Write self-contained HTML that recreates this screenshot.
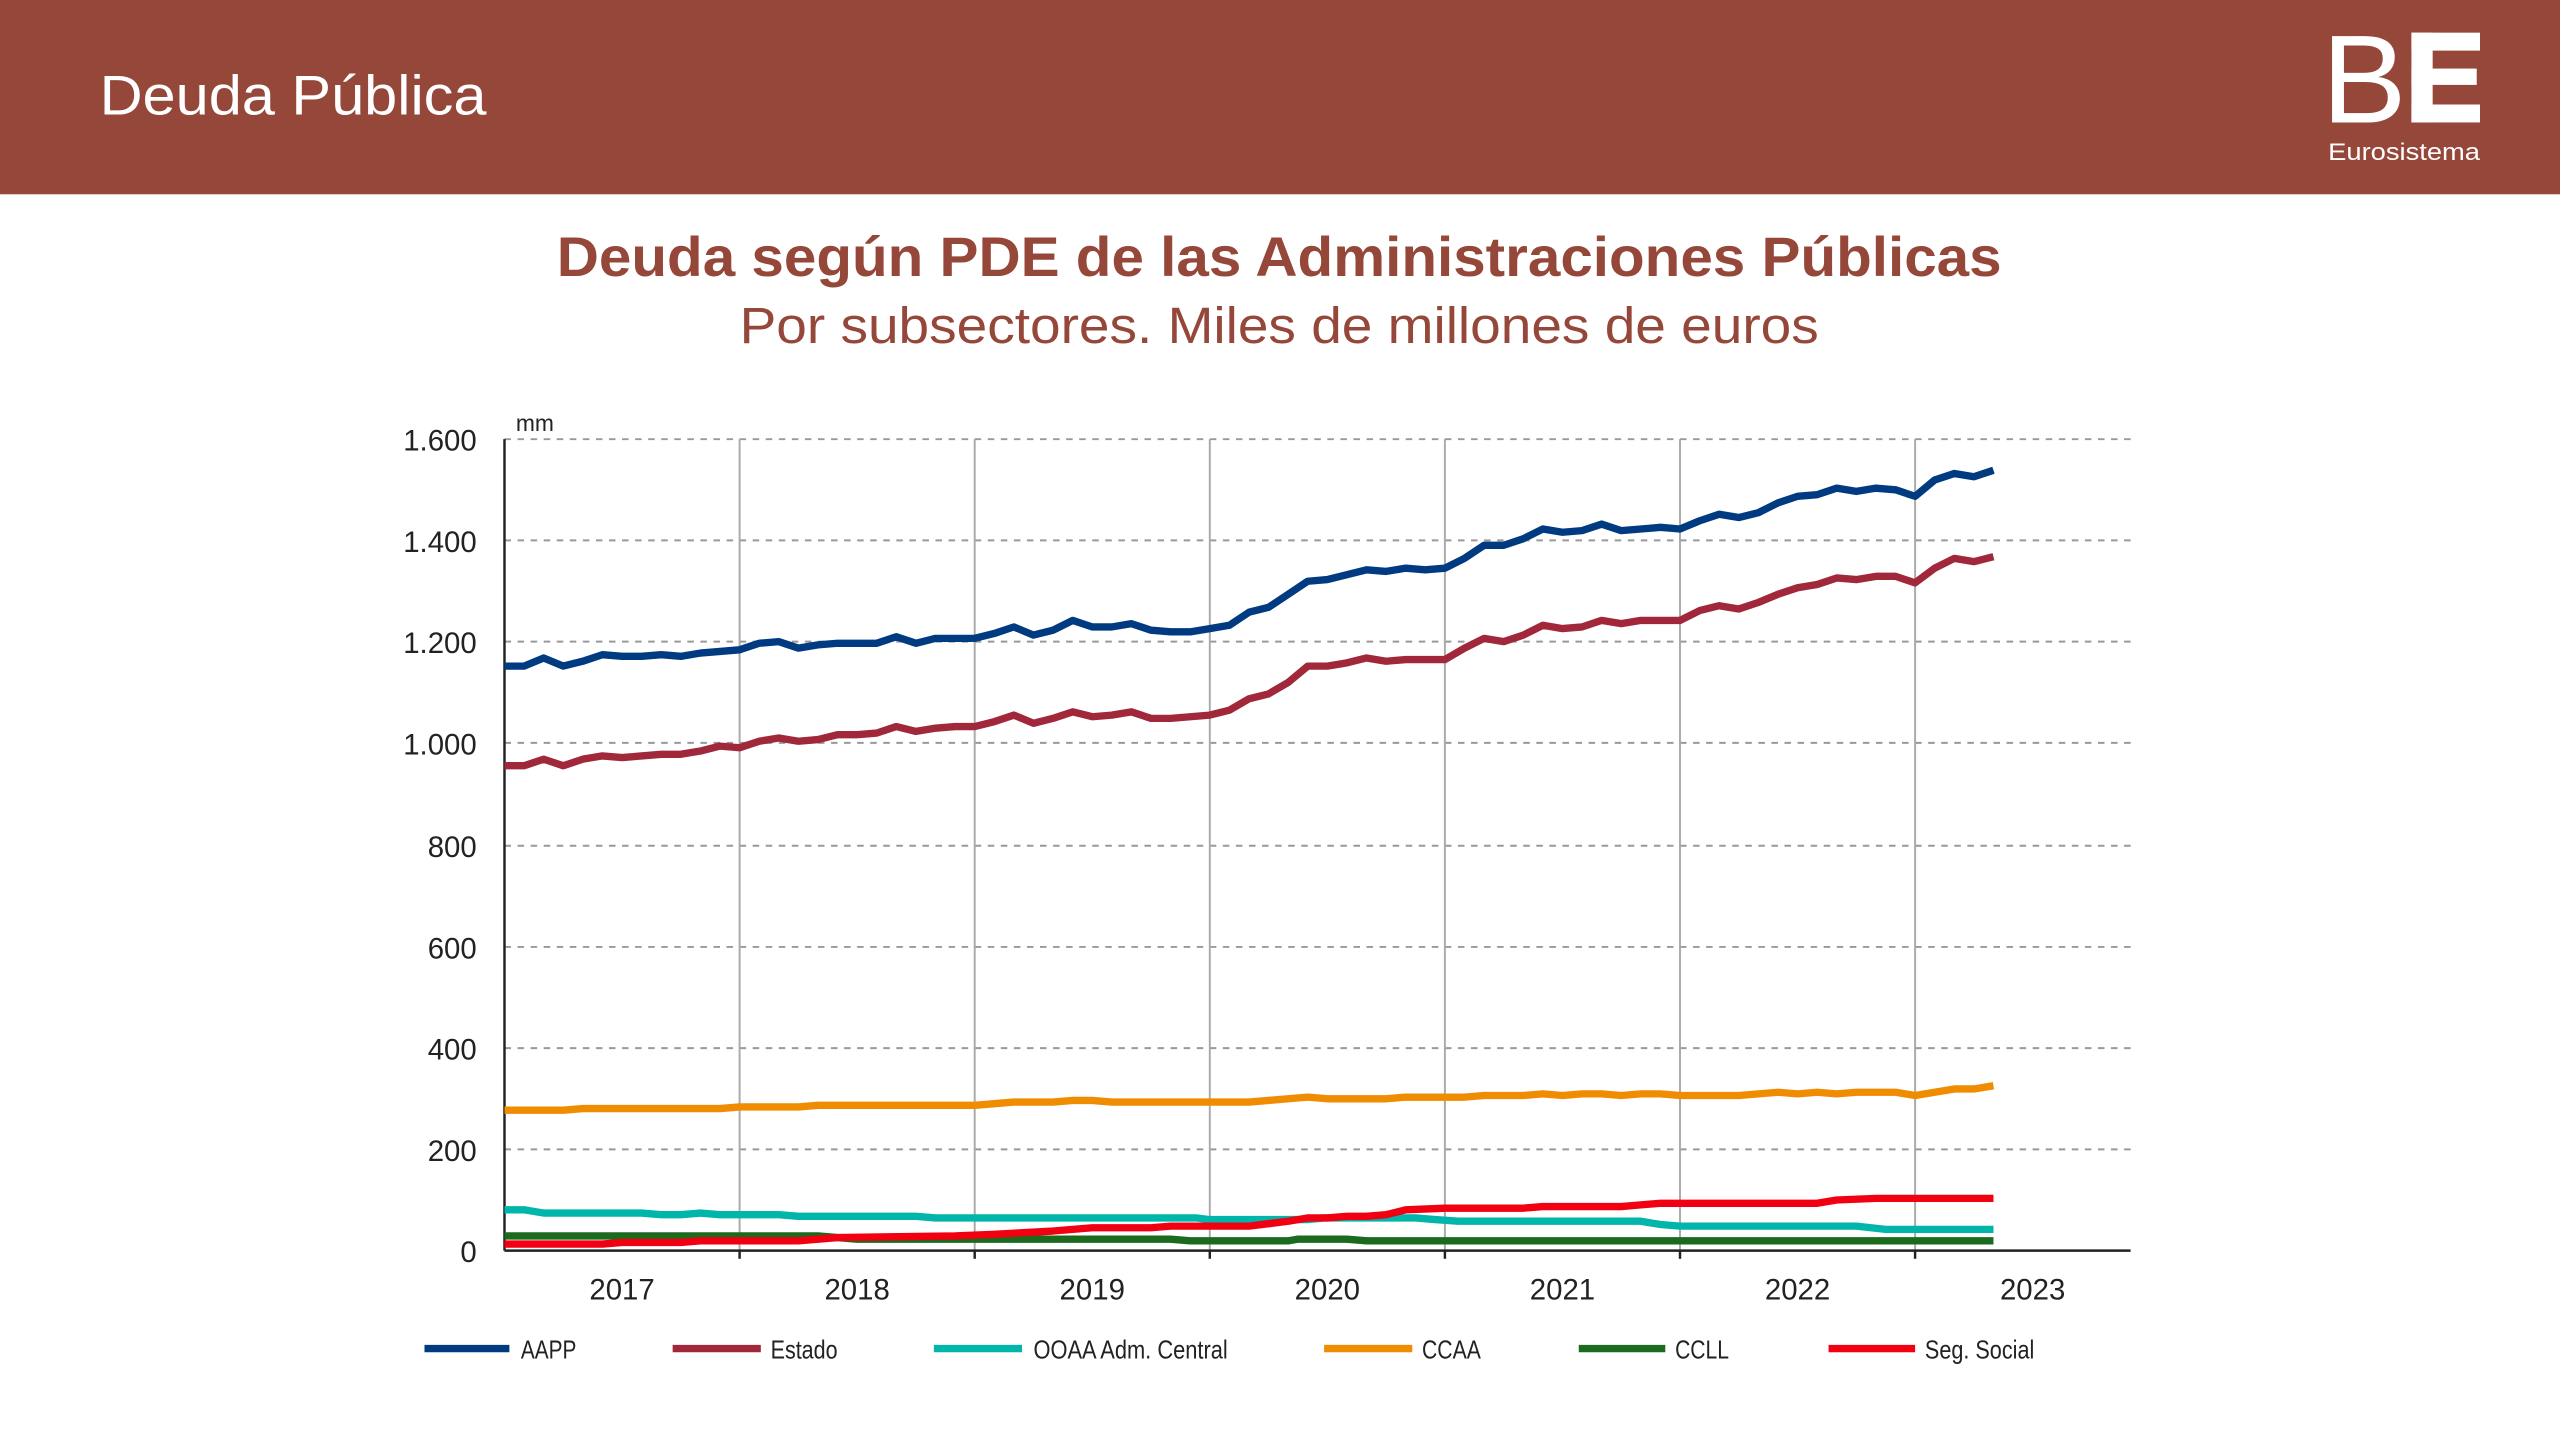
<!DOCTYPE html>
<html><head><meta charset="utf-8"><style>
html,body{margin:0;padding:0;background:#fff;}
svg{display:block;}
</style></head><body>
<svg width="2560" height="1440" viewBox="0 0 1568 882" xmlns="http://www.w3.org/2000/svg" font-family="Liberation Sans, sans-serif">
<rect x="0" y="0" width="1568" height="119" fill="#95473A"/>
<text x="61" y="70" font-size="34" fill="#fff" textLength="237" lengthAdjust="spacingAndGlyphs">Deuda Pública</text>
<g fill="#fff">
<text x="1422" y="75" font-size="77" textLength="52" lengthAdjust="spacingAndGlyphs">B</text>
<rect x="1477" y="20" width="13" height="55"/>
<rect x="1477" y="20" width="42" height="11"/>
<rect x="1477" y="42" width="40" height="10"/>
<rect x="1477" y="64" width="42" height="11"/>
<text x="1426" y="98" font-size="15" textLength="93" lengthAdjust="spacingAndGlyphs">Eurosistema</text>
</g>
<text x="341" y="169" font-size="34" font-weight="bold" fill="#95473A" textLength="885" lengthAdjust="spacingAndGlyphs">Deuda según PDE de las Administraciones Públicas</text>
<text x="453" y="210" font-size="31" fill="#95473A" textLength="661" lengthAdjust="spacingAndGlyphs">Por subsectores. Miles de millones de euros</text>
<g stroke="#999" stroke-width="1.2" stroke-dasharray="4,4">
<line x1="309" y1="269" x2="1305" y2="269"/><line x1="309" y1="331" x2="1305" y2="331"/><line x1="309" y1="393" x2="1305" y2="393"/><line x1="309" y1="455" x2="1305" y2="455"/><line x1="309" y1="518" x2="1305" y2="518"/><line x1="309" y1="580" x2="1305" y2="580"/><line x1="309" y1="642" x2="1305" y2="642"/><line x1="309" y1="704" x2="1305" y2="704"/>
</g>
<g stroke="#aaa" stroke-width="1.2">
<line x1="453" y1="269" x2="453" y2="766"/><line x1="597" y1="269" x2="597" y2="766"/><line x1="741" y1="269" x2="741" y2="766"/><line x1="885" y1="269" x2="885" y2="766"/><line x1="1029" y1="269" x2="1029" y2="766"/><line x1="1173" y1="269" x2="1173" y2="766"/>
</g>
<g stroke="#222" stroke-width="1.5">
<line x1="309" y1="269" x2="309" y2="766"/><line x1="309" y1="766" x2="1305" y2="766"/>
<line x1="453" y1="766" x2="453" y2="771"/><line x1="597" y1="766" x2="597" y2="771"/><line x1="741" y1="766" x2="741" y2="771"/><line x1="885" y1="766" x2="885" y2="771"/><line x1="1029" y1="766" x2="1029" y2="771"/><line x1="1173" y1="766" x2="1173" y2="771"/>
</g>
<g font-size="18" fill="#222" text-anchor="end">
<text x="292" y="276">1.600</text><text x="292" y="338">1.400</text><text x="292" y="400">1.200</text><text x="292" y="462">1.000</text><text x="292" y="525">800</text><text x="292" y="587">600</text><text x="292" y="649">400</text><text x="292" y="711">200</text><text x="292" y="773">0</text>
</g>
<text x="316" y="264" font-size="14" fill="#222">mm</text>
<g font-size="18" fill="#222" text-anchor="middle">
<text x="381" y="796">2017</text><text x="525" y="796">2018</text><text x="669" y="796">2019</text><text x="813" y="796">2020</text><text x="957" y="796">2021</text><text x="1101" y="796">2022</text><text x="1245" y="796">2023</text>
</g>
<g fill="none" stroke-width="4.5" stroke-linejoin="round">
<polyline stroke="#F08C00" points="309,680 345,680 357,679 441,679 453,678 489,678 501,677 597,677 621,675 645,675 657,674 669,674 681,675 741,675 765,675 777,674 789,673 801,672 813,673 849,673 861,672 897,672 909,671 933,671 945,670 957,671 969,670 981,670 993,671 1005,670 1017,670 1029,671 1065,671 1077,670 1089,669 1101,670 1113,669 1125,670 1137,669 1161,669 1173,671 1185,669 1197,667 1209,667 1221,665"/>
<polyline stroke="#00B5AA" points="309,741 321,741 333,743 393,743 405,744 417,744 429,743 441,744 477,744 489,745 561,745 573,746 733,746 741,747 801,747 811,746 855,746 867,746 879,747 893,748 1005,748 1017,750 1029,751 1137,751 1155,753 1221,753"/>
<polyline stroke="#1B6A1E" points="309,757 501,757 513,758 525,759 717,759 729,760 789,760 795,759 825,759 837,760 1221,760"/>
<polyline stroke="#F00010" points="309,762 369,762 381,761 417,761 429,760 489,760 513,758 585,757 609,756 645,754 669,752 705,752 717,751 765,751 789,748 801,746 813,746 825,745 837,745 849,744 861,741 885,740 933,740 945,739 993,739 1005,738 1017,737 1113,737 1125,735 1149,734 1221,734"/>
<polyline stroke="#A0283A" points="309,469 321,469 333,465 345,469 357,465 369,463 381,464 393,463 405,462 417,462 429,460 441,457 453,458 465,454 477,452 489,454 501,453 513,450 525,450 537,449 549,445 561,448 573,446 585,445 597,445 609,442 621,438 633,443 645,440 657,436 669,439 681,438 693,436 705,440 717,440 729,439 741,438 753,435 765,428 777,425 789,418 801,408 813,408 825,406 837,403 849,405 861,404 873,404 885,404 897,397 909,391 921,393 933,389 945,383 957,385 969,384 981,380 993,382 1005,380 1017,380 1029,380 1041,374 1053,371 1065,373 1077,369 1089,364 1101,360 1113,358 1125,354 1137,355 1149,353 1161,353 1173,357 1185,348 1197,342 1209,344 1221,341"/>
<polyline stroke="#003A80" points="309,408 321,408 333,403 345,408 357,405 369,401 381,402 393,402 405,401 417,402 429,400 441,399 453,398 465,394 477,393 489,397 501,395 513,394 525,394 537,394 549,390 561,394 573,391 585,391 597,391 609,388 621,384 633,389 645,386 657,380 669,384 681,384 693,382 705,386 717,387 729,387 741,385 753,383 765,375 777,372 789,364 801,356 813,355 825,352 837,349 849,350 861,348 873,349 885,348 897,342 909,334 921,334 933,330 945,324 957,326 969,325 981,321 993,325 1005,324 1017,323 1029,324 1041,319 1053,315 1065,317 1077,314 1089,308 1101,304 1113,303 1125,299 1137,301 1149,299 1161,300 1173,304 1185,294 1197,290 1209,292 1221,288"/>
</g>
<g stroke-width="4.5">
<line x1="260" y1="826" x2="312" y2="826" stroke="#003A80"/>
<line x1="412" y1="826" x2="466" y2="826" stroke="#A0283A"/>
<line x1="572" y1="826" x2="626" y2="826" stroke="#00B5AA"/>
<line x1="811" y1="826" x2="865" y2="826" stroke="#F08C00"/>
<line x1="967" y1="826" x2="1020" y2="826" stroke="#1B6A1E"/>
<line x1="1120" y1="826" x2="1173" y2="826" stroke="#F00010"/>
</g>
<g font-size="16" fill="#222">
<text x="319" y="832" textLength="34" lengthAdjust="spacingAndGlyphs">AAPP</text>
<text x="472" y="832" textLength="41" lengthAdjust="spacingAndGlyphs">Estado</text>
<text x="633" y="832" textLength="119" lengthAdjust="spacingAndGlyphs">OOAA Adm. Central</text>
<text x="871" y="832" textLength="36" lengthAdjust="spacingAndGlyphs">CCAA</text>
<text x="1026" y="832" textLength="33" lengthAdjust="spacingAndGlyphs">CCLL</text>
<text x="1179" y="832" textLength="67" lengthAdjust="spacingAndGlyphs">Seg. Social</text>
</g>
</svg>
</body></html>
